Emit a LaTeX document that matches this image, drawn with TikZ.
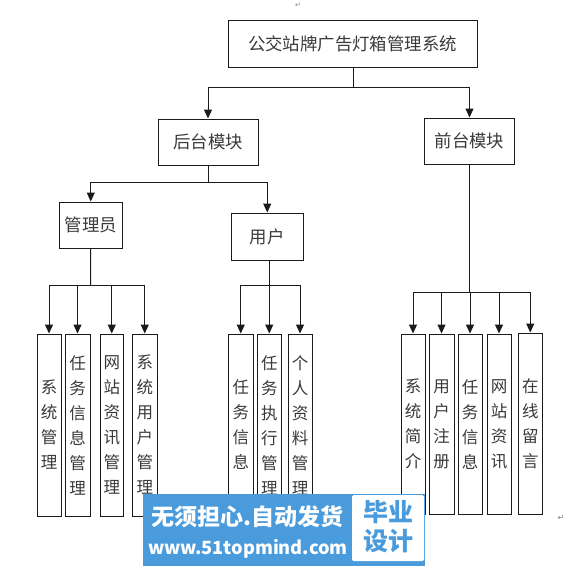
\documentclass[tikz,border=0pt]{standalone}
\usepackage{fontspec}
\setmainfont{Noto Sans CJK SC}
\newfontfamily\symfont{DejaVu Sans}
\usetikzlibrary{arrows.meta}
\definecolor{ink}{HTML}{1A1A1A}
\definecolor{txt}{HTML}{3A3A3A}
\definecolor{bannerblue}{HTML}{4A9BDC}
\tikzset{
  box/.style={draw=ink,line width=1pt,fill=white,text=txt,inner sep=0pt,align=center,font=\fontsize{17.4}{17.4}\selectfont},
  vbox/.style={box,font=\fontsize{16.5}{25}\selectfont},
  wire/.style={draw=ink,line width=1pt},
  arr/.style={wire,-{Triangle[length=9pt,width=8pt]}},
}
\newcommand{\boxat}[6]{\node[#1,minimum width=#4pt-#3pt,minimum height=#6pt-#5pt] at ({(#3+#4)/2},{(#5+#6)/2})}
\begin{document}
\begin{tikzpicture}[x=1pt,y=-1pt]
\useasboundingbox (0,0) rectangle (569,566);
\boxat{box}{}{228}{477}{20}{67} (root) {公交站牌广告灯箱管理系统};
\boxat{box}{}{158}{258}{119}{165} (back) {后台模块};
\boxat{box}{}{424.5}{514.5}{118}{164} (front) {前台模块};
\boxat{box}{}{59}{122.5}{202}{248} (admin) {管理员};
\boxat{box}{}{231.5}{303}{213}{260} (user) {用户};
% admin leaves
\boxat{vbox}{}{37}{61}{334}{516} (a1) {系\\统\\管\\理};
\boxat{vbox}{}{65}{90}{334}{516} (a2) {任\\务\\信\\息\\管\\理};
\boxat{vbox}{}{100}{123.5}{334}{516} (a3) {网\\站\\资\\讯\\管\\理};
\boxat{vbox}{}{132.5}{157}{334}{516} (a4) {系\\统\\用\\户\\管\\理};
% user leaves
\boxat{vbox}{}{228.5}{253}{334}{516} (u1) {任\\务\\信\\息};
\boxat{vbox}{}{257.5}{281}{334}{516} (u2) {任\\务\\执\\行\\管\\理};
\boxat{vbox}{}{288}{312}{334}{516} (u3) {个\\人\\资\\料\\管\\理};
% front leaves
\boxat{vbox}{}{401}{425}{334}{514.5} (f1) {系\\统\\简\\介};
\boxat{vbox}{}{429}{454}{334}{514.5} (f2) {用\\户\\注\\册};
\boxat{vbox}{}{458}{482}{334}{514.5} (f3) {任\\务\\信\\息};
\boxat{vbox}{}{487}{511}{334}{514.5} (f4) {网\\站\\资\\讯};
\boxat{vbox}{}{518.5}{542}{333}{514.5} (f5) {在\\线\\留\\言};
% connectors
\coordinate (jr) at (353,87);
\draw[wire] (root.south -| jr) -- (jr);
\draw[arr] (jr) -| (back.north);
\draw[arr] (jr) -| (front.north);
\coordinate (jb) at (208,182);
\draw[wire] (back.south) -- (jb);
\draw[arr] (jb) -| (admin.north);
\draw[arr] (jb) -| (user.north);
\coordinate (ja) at (90.5,285);
\draw[wire] (admin.south) -- (ja);
\foreach \t in {a1,a2,a3,a4}{\draw[arr] (ja) -| (\t.north);}
\coordinate (ju) at (269,285);
\draw[wire] (user.south -| ju) -- (ju);
\foreach \t in {u1,u2,u3}{\draw[arr] (ju) -| (\t.north);}
\coordinate (jf) at (469.5,292);
\draw[wire] (front.south) -- (jf);
\foreach \t in {f1,f2,f3,f4,f5}{\draw[arr] (jf) -| (\t.north);}
% paragraph marks
\node[text=gray,font=\symfont\fontsize{7}{7}\selectfont,inner sep=0pt] (m1) at (298,5) {↵};
\node[text=gray,font=\symfont\fontsize{8}{8}\selectfont,inner sep=0pt] (m2) at (561,518) {↵};
% banner
\fill[bannerblue] (143,494) rectangle (425,566);
\fill[white,rounded corners=1.5pt] (352,495) rectangle (424,561);
\node[text=white,font=\fontsize{23}{23}\selectfont\bfseries] (b1) at (247.5,517) {无须担心.自动发货};
\node[text=white,font=\fontsize{18.2}{18.2}\selectfont\bfseries] (b2) at (248,549) {www.51topmind.com};
\node[text=bannerblue,font=\fontsize{25}{29}\selectfont\bfseries,align=center] (b3) at (388,527) {毕业\\设计};
\end{tikzpicture}
\end{document}
